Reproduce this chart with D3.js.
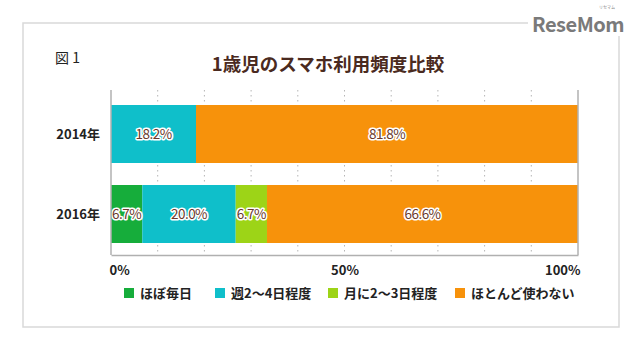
<!DOCTYPE html>
<html><head><meta charset="utf-8">
<script src="https://cdn.jsdelivr.net/npm/d3@7/dist/d3.min.js"></script>
<style>
html,body{margin:0;padding:0;background:#fff;}
svg{display:block;}
text{font-family:"Noto Sans CJK JP","Noto Sans",sans-serif;}
</style></head>
<body>
<script>
const categories = ["2014年", "2016年"];
const seriesNames = ["ほぼ毎日", "週2～4日程度", "月に2～3日程度", "ほとんど使わない"];
const seriesColors = ["#16ad3b", "#0fbfca", "#9dd417", "#f7920b"];
const values2014 = [0, 18.2, 0, 81.8];
const values2016 = [6.7, 20.0, 6.7, 66.6];
const tickValues = [0, 50, 100];
const tickLabels = ["0%", "50%", "100%"];
const gridValues = [10, 20, 30, 40, 50, 60, 70, 80, 90];
const titleText = "1歳児のスマホ利用頻度比較";
const figLabel = "図 1";

const W = 640, H = 342;
const svg = d3.select("body").append("svg").attr("width", W).attr("height", H);

// outer frame
svg.append("rect").attr("x", 23).attr("y", 23).attr("width", 596).attr("height", 304)
  .attr("fill", "#fff").attr("stroke", "#d9d9d9").attr("stroke-width", 1.5);

// logo
svg.append("rect").attr("x", 528).attr("y", 4).attr("width", 100).attr("height", 32).attr("fill", "#fff");
svg.append("text").attr("x", 624).attr("y", 32).attr("text-anchor", "end")
  .attr("font-size", 20).attr("font-weight", 700).attr("fill", "#7a7a7a")
  .attr("font-family", "Roboto, sans-serif").attr("letter-spacing", -0.5).text("ReseMom");
svg.append("text").attr("x", 607).attr("y", 9).attr("text-anchor", "middle")
  .attr("font-size", 4).attr("fill", "#888").text("リセマム");

svg.append("text").attr("x", 55).attr("y", 63).attr("font-size", 14).attr("fill", "#222")
  .text(figLabel);
svg.append("text").attr("x", 328).attr("y", 71).attr("text-anchor", "middle")
  .attr("font-size", 18.5).attr("font-weight", 700).attr("fill", "#4a2a20").text(titleText);

const x = d3.scaleLinear().domain([0, 100]).range([111, 578]);
const y = d3.scaleBand().domain(categories).range([93, 255]).paddingInner(0.275).paddingOuter(0.15);

// gridlines
svg.append("g").selectAll("line").data(gridValues).join("line")
  .attr("x1", d => x(d)).attr("x2", d => x(d)).attr("y1", 90).attr("y2", 255)
  .attr("stroke", "#b5b5b5").attr("stroke-width", 1).attr("stroke-dasharray", "1.5,3.5");

const data = [values2014, values2016];
const rows = svg.append("g").selectAll("g").data(categories).join("g");
rows.each(function(cat, i) {
  const vals = data[i];
  let acc = 0;
  const segs = vals.map((v, j) => { const s = {x0: acc, x1: acc + v, v, j}; acc += v; return s; })
    .filter(s => s.v > 0);
  const g = d3.select(this);
  g.selectAll("rect").data(segs).join("rect")
    .attr("x", s => x(s.x0)).attr("width", s => x(s.x1) - x(s.x0))
    .attr("y", y(cat)).attr("height", y.bandwidth())
    .attr("fill", s => seriesColors[s.j]);
  g.selectAll("text.v").data(segs).join("text").attr("class", "v")
    .attr("x", s => (x(s.x0) + x(s.x1)) / 2).attr("y", y(cat) + y.bandwidth() / 2 + 5)
    .attr("text-anchor", "middle").attr("font-size", 13.5).attr("letter-spacing", -0.5)
    .attr("fill", "#6b3a2c").attr("stroke", "#fff").attr("stroke-width", 3)
    .attr("stroke-linejoin", "round").attr("paint-order", "stroke")
    .text(s => s.v.toFixed(1) + "%");
  g.append("text").attr("x", 100).attr("y", y(cat) + y.bandwidth() / 2 + 5)
    .attr("text-anchor", "end").attr("font-size", 13).attr("font-weight", 700).attr("fill", "#222")
    .text(cat);
});

// axis frame lines
const axisG = svg.append("g").attr("transform", "translate(0,255)");
const xAxis = d3.axisBottom(x).tickValues(tickValues).tickSize(0).tickFormat((d, i) => tickLabels[i]);
axisG.call(xAxis);
axisG.select(".domain").attr("stroke", "#b0b0b0").attr("stroke-width", 1.5);
axisG.selectAll(".tick text").attr("font-size", 13).attr("font-weight", 700).attr("fill", "#222")
  .attr("dy", 0).attr("y", 20)
  .attr("text-anchor", (d, i) => i === 0 ? "start" : (i === tickValues.length - 1 ? "end" : "middle"))
  .attr("dx", (d, i) => i === 0 ? -2 : (i === tickValues.length - 1 ? 2 : 0));
svg.append("line").attr("x1", x(0)).attr("x2", x(0)).attr("y1", 90).attr("y2", 255)
  .attr("stroke", "#b0b0b0").attr("stroke-width", 1.5);
svg.append("line").attr("x1", x(100)).attr("x2", x(100)).attr("y1", 90).attr("y2", 255)
  .attr("stroke", "#b0b0b0").attr("stroke-width", 1.5);

// legend
const legendX = [124, 215, 328, 455];
const lg = svg.append("g").selectAll("g").data(seriesNames).join("g")
  .attr("transform", (d, i) => `translate(${legendX[i]},288)`);
lg.append("rect").attr("width", 10).attr("height", 10).attr("fill", (d, i) => seriesColors[i]);
lg.append("text").attr("x", 16).attr("y", 10).attr("font-size", 13).attr("font-weight", 700)
  .attr("fill", "#222").text(d => d);
</script>
</body></html>
